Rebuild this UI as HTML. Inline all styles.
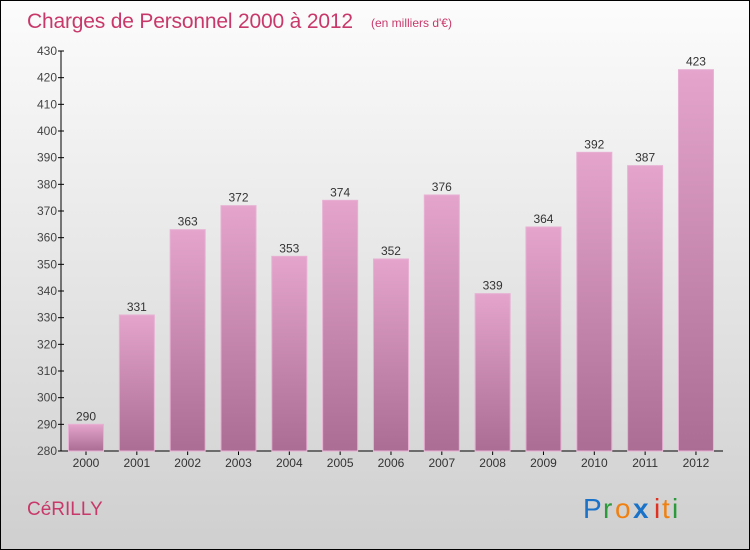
<!DOCTYPE html>
<html><head><meta charset="utf-8"><style>
body{margin:0}
#c{position:relative;width:748px;height:548px;border:1px solid #000;background:linear-gradient(#fcfcfc,#cfcfcf);overflow:hidden;font-family:"Liberation Sans",sans-serif}
</style></head><body>
<div id="c">
<svg width="748" height="548" style="position:absolute;left:0;top:0" font-family="Liberation Sans, sans-serif">
<defs><linearGradient id="bg" x1="0" y1="0" x2="0" y2="1"><stop offset="0" stop-color="#e4a4cc"/><stop offset="1" stop-color="#ab6d93"/></linearGradient></defs>
<text x="26" y="27" font-size="21" fill="#c8386a" textLength="326">Charges de Personnel 2000 à 2012</text>
<text x="370" y="26" font-size="12" fill="#c8386a">(en milliers d'€)</text>
<g id="axes"></g><g id="bars"></g>
<text x="26" y="514" font-size="19" fill="#c8386a">CéRILLY</text>
<g font-size="28" font-family="Liberation Sans, sans-serif">
<text x="582" y="517" fill="#1a73c8">P</text><text x="602" y="517" fill="#2a9a3a">r</text><text x="614" y="517" fill="#f08010">o</text><text x="632" y="517" fill="#1a73c8" font-weight="bold">x</text><text x="653" y="517" fill="#e03020">i</text><text x="661" y="517" fill="#f08010">t</text><text x="671" y="517" fill="#2a9a3a">i</text></g>
</svg></div>
<script>
const categories=["2000","2001","2002","2003","2004","2005","2006","2007","2008","2009","2010","2011","2012"];
const values=[290,331,363,372,353,374,352,376,339,364,392,387,423];
const ticks=[280,290,300,310,320,330,340,350,360,370,380,390,400,410,420,430];
const NS="http://www.w3.org/2000/svg";
const y=v=>450-(v-280)*400/150;
const x=i=>85+i*50.83;
const ax=document.getElementById('axes'),bs=document.getElementById('bars');
function mk(t,a,p){const e=document.createElementNS(NS,t);for(const k in a)e.setAttribute(k,a[k]);p.appendChild(e);return e;}
const yl=mk('line',{x1:60,x2:60,y1:50,y2:450,stroke:'#000'},ax);


const xl=mk('line',{x1:60,x2:722,y1:450,y2:450,stroke:'#000'},ax);


ticks.forEach(t=>{mk('line',{x1:57,x2:63,y1:y(t),y2:y(t),stroke:'#000'},ax);
const e=mk('text',{x:56,y:y(t)+4,'font-size':12,fill:'#444','text-anchor':'end'},ax);e.textContent=t;

});
categories.forEach((c,i)=>{const v=values[i];
const r=mk('rect',{x:x(i)-17.5,y:y(v),width:35,height:450-y(v),fill:'url(#bg)',stroke:'#e8b0d4','stroke-width':1},bs);


const l=mk('text',{x:x(i),y:y(v)-4,'font-size':12,fill:'#333','text-anchor':'middle'},bs);l.textContent=v;


mk('line',{x1:x(i),x2:x(i),y1:450,y2:454,stroke:'#000'},ax);
const t=mk('text',{x:x(i),y:466,'font-size':12,fill:'#333','text-anchor':'middle'},ax);t.textContent=c;

});
</script></body></html>
